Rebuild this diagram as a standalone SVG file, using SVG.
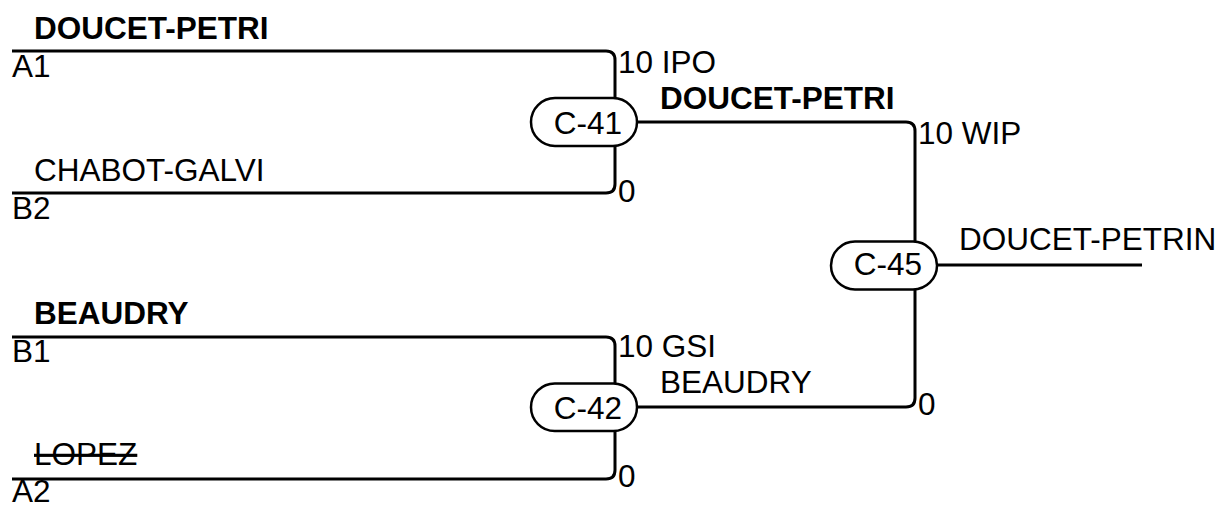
<svg xmlns="http://www.w3.org/2000/svg" width="1222" height="508" viewBox="0 0 1222 508">
<style>
text{font-family:"Liberation Sans",Arial,sans-serif;font-size:31.5px;fill:#000}
.b{font-weight:bold}
.ln{fill:none;stroke:#000;stroke-width:3}
.pill{fill:#fff;stroke:#000;stroke-width:2.5}
.strike{text-decoration:line-through}
</style>
<rect width="1222" height="508" fill="#fff"/>
<g id="connectors">
<path class="ln" d="M12,51 H606 Q615,51 615,60 V100"/>
<path class="ln" d="M12,193 H606 Q615,193 615,184 V144"/>
<path class="ln" d="M12,337 H606 Q615,337 615,346 V386"/>
<path class="ln" d="M12,479 H606 Q615,479 615,470 V430"/>
<path class="ln" d="M636,122 H906 Q915,122 915,131 V244"/>
<path class="ln" d="M636,407 H906 Q915,407 915,398 V287"/>
<path class="ln" d="M936,265 H1142"/>
</g>
<g id="labels">
<text class="b" x="34" y="39">DOUCET-PETRI</text>
<text x="12" y="77">A1</text>
<text x="34" y="181">CHABOT-GALVI</text>
<text x="12" y="219">B2</text>
<text class="b" x="34" y="324">BEAUDRY</text>
<text x="12" y="362">B1</text>
<text class="strike" x="34" y="465">LOPEZ</text>
<text x="12" y="502">A2</text>
<text x="618" y="73">10 IPO</text>
<text x="618" y="202">0</text>
<text class="b" x="660" y="109">DOUCET-PETRI</text>
<text x="618" y="357">10 GSI</text>
<text x="618" y="487">0</text>
<text x="660" y="393">BEAUDRY</text>
<text x="918" y="144">10 WIP</text>
<text x="918" y="415">0</text>
<text x="959" y="250">DOUCET-PETRIN</text>
</g>
<g id="C-41">
<rect class="pill" x="531" y="98" width="106" height="48" rx="24"/>
<text x="622" y="134" text-anchor="end">C-41</text>
</g>
<g id="C-42">
<rect class="pill" x="531" y="383.5" width="106" height="47.5" rx="23.75"/>
<text x="622" y="419" text-anchor="end">C-42</text>
</g>
<g id="C-45">
<rect class="pill" x="831" y="241.5" width="106" height="48" rx="24"/>
<text x="922" y="275" text-anchor="end">C-45</text>
</g>
</svg>
